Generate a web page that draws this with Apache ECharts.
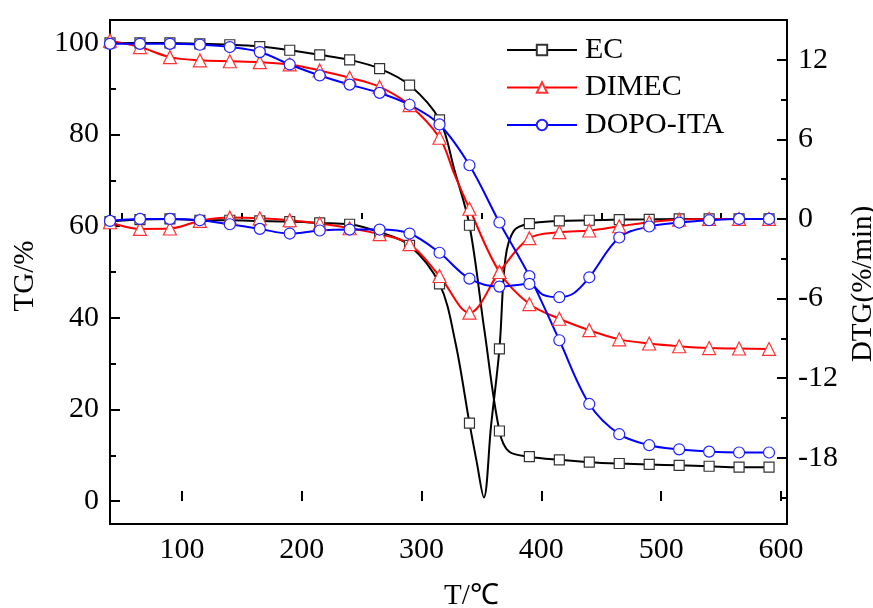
<!DOCTYPE html>
<html>
<head>
<meta charset="utf-8">
<script src="https://cdn.jsdelivr.net/npm/echarts@6/dist/echarts.min.js"></script>
<style>
html, body { margin: 0; padding: 0; background: #fff; }
#main { width: 873px; height: 608px; }
</style>
</head>
<body>
<div id="main"></div>
<script>
// temperature (°C) and values; markers every 25 °C from 40
var seriesNames = ['EC', 'DIMEC', 'DOPO-ITA'];

var ecTG = [[40,100.0],[65,100.0],[90,100.0],[115,99.8],[140,99.6],[165,99.2],[190,98.4],[215,97.4],[240,96.3],[265,94.4],[290,90.8],[315,83.2],[327.5,72.2],[340,60.2],[352.5,37.2],[365,15.3],[373,10.8],[390,9.7],[415,9.0],[440,8.5],[465,8.2],[490,8.0],[515,7.8],[540,7.6],[565,7.4],[590,7.4]];
var dimecTG = [[40,100.5],[65,99.1],[90,96.9],[115,96.2],[140,96.0],[165,95.8],[190,95.3],[215,94.0],[240,92.4],[265,90.4],[290,86.4],[315,79.3],[327.5,71.3],[340,63.8],[365,50.0],[390,43.0],[415,39.8],[440,37.3],[465,35.3],[490,34.4],[515,33.8],[540,33.4],[565,33.3],[590,33.2]];
var dopoTG = [[40,99.8],[65,99.8],[90,99.8],[115,99.6],[140,99.1],[165,98.0],[190,95.3],[215,92.9],[240,90.9],[265,89.1],[290,86.5],[315,82.2],[340,73.3],[365,60.8],[390,49.1],[415,35.1],[440,21.2],[465,14.6],[490,12.2],[515,11.3],[540,10.8],[565,10.6],[590,10.6]];

var ecDTG = [[40,-0.2],[65,-0.05],[90,0],[115,-0.1],[140,-0.1],[165,-0.15],[190,-0.2],[215,-0.3],[240,-0.4],[265,-1.0],[290,-2.0],[315,-4.9],[328,-9.2],[340,-15.4],[346,-18.3],[352,-21.0],[358,-15.6],[365,-9.8],[370,-3.0],[377,-0.9],[390,-0.35],[415,-0.15],[440,-0.1],[465,-0.05],[490,-0.03],[515,0],[540,0],[565,0],[590,0]];
var dimecDTG = [[40,-0.25],[65,-0.75],[90,-0.72],[115,-0.15],[140,0.1],[165,0.05],[190,-0.1],[215,-0.35],[240,-0.7],[265,-1.15],[290,-1.9],[315,-4.3],[340,-7.07],[365,-4.0],[390,-1.45],[415,-1.0],[440,-0.87],[465,-0.55],[490,-0.25],[515,-0.05],[540,0],[565,0],[590,0]];
var dopoDTG = [[40,-0.15],[65,0],[90,0],[115,-0.1],[140,-0.4],[165,-0.75],[190,-1.1],[215,-0.87],[240,-0.8],[265,-0.8],[290,-1.1],[315,-2.55],[340,-4.5],[365,-5.1],[390,-4.9],[401,-5.7],[415,-5.9],[427,-5.6],[440,-4.4],[465,-1.4],[490,-0.57],[515,-0.27],[540,-0.1],[565,0],[590,0]];

var xTicks = [100, 200, 300, 400, 500, 600];
var xMinor = [50, 150, 250, 350, 450, 550];
var tgTicks = [0, 20, 40, 60, 80, 100];
var tgMinor = [10, 30, 50, 70, 90];
var dtgTicks = [-18, -12, -6, 0, 6, 12];
var dtgMinor = [-21, -15, -9, -3, 3, 9];

var font = "'Liberation Serif', 'Times New Roman', serif";
var chart = echarts.init(document.getElementById('main'), null, {renderer: 'canvas'});

function pts(arr) {
    // only every 25 °C step gets a marker, the rest just shape the curve
    return arr.map(function (p) {
        var isMark = (p[0] - 40) % 25 === 0;
        return isMark ? {value: p} : {value: p, symbol: 'none'};
    });
}

function line(name, arr, yIdx, sym, size, color, edge) {
    return {
        name: name,
        type: 'line',
        xAxisIndex: 0,
        yAxisIndex: yIdx,
        data: pts(arr),
        smooth: 0.35,
        showAllSymbol: true,
        symbol: sym,
        symbolSize: size,
        lineStyle: {color: color, width: 2},
        itemStyle: {color: '#fff', borderColor: edge, borderWidth: 1.2},
        emphasis: {disabled: true}
    };
}

function tickAxis(pos, min, max, vals, len, labels) {
    return {
        type: 'value', position: pos, min: min, max: max,
        axisLine: {show: false},
        splitLine: {show: false},
        axisTick: {inside: true, length: len, customValues: vals, lineStyle: {color: '#000', width: 2}},
        axisLabel: labels ? {customValues: vals, fontSize: 30, fontFamily: font, color: '#000', margin: 11} : {show: false}
    };
}

var xMain = tickAxis('bottom', 40, 605, xTicks, 10, true);
xMain.name = 'T/℃';
xMain.nameLocation = 'middle';
xMain.nameGap = 58;
xMain.nameTextStyle = {fontSize: 29, fontFamily: font, color: '#000', padding: [0, 0, 0, 46]};

var yLeft = tickAxis('left', -5, 105, tgTicks, 10, true);
yLeft.name = 'TG/%';
yLeft.nameLocation = 'middle';
yLeft.nameRotate = 90;
yLeft.nameGap = 70;
yLeft.nameTextStyle = {fontSize: 29, fontFamily: font, color: '#000', padding: [0, 8, 0, 0]};

var yRight = tickAxis('right', -23, 15, dtgTicks, 10, true);
yRight.name = 'DTG(%/min)';
yRight.nameLocation = 'middle';
yRight.nameRotate = 90;
yRight.nameGap = 58;
yRight.nameTextStyle = {fontSize: 29, fontFamily: font, color: '#000', padding: [0, 24, 0, 0]};

chart.setOption({
    animation: false,
    backgroundColor: '#fff',
    grid: {left: 110, right: 86, top: 20, bottom: 84, outerBoundsMode: 'none', containLabel: false,
           show: true, borderColor: '#000', borderWidth: 2, backgroundColor: 'transparent'},
    legend: {
        data: seriesNames,
        orient: 'vertical',
        left: 501,
        top: 30,
        itemWidth: 70,
        itemHeight: 13,
        itemGap: 7.5,
        selectedMode: false,
        textStyle: {fontSize: 30, fontFamily: font, color: '#000', lineHeight: 30, padding: [0, 0, 0, 3]}
    },
    xAxis: [xMain, tickAxis('bottom', 40, 605, xMinor, 6, false)],
    yAxis: [yLeft, yRight, tickAxis('left', -5, 105, tgMinor, 6, false), tickAxis('right', -23, 15, dtgMinor, 6, false)],
    series: [
        line('EC', ecTG, 0, 'rect', 10, '#000', '#333'),
        line('EC', ecDTG, 1, 'rect', 10, '#000', '#333'),
        line('DIMEC', dimecTG, 0, 'triangle', 13, '#f00', '#f33'),
        line('DIMEC', dimecDTG, 1, 'triangle', 13, '#f00', '#f33'),
        line('DOPO-ITA', dopoTG, 0, 'circle', 11, '#00f', '#22f'),
        line('DOPO-ITA', dopoDTG, 1, 'circle', 11, '#00f', '#22f')
    ]
});
</script>
</body>
</html>
